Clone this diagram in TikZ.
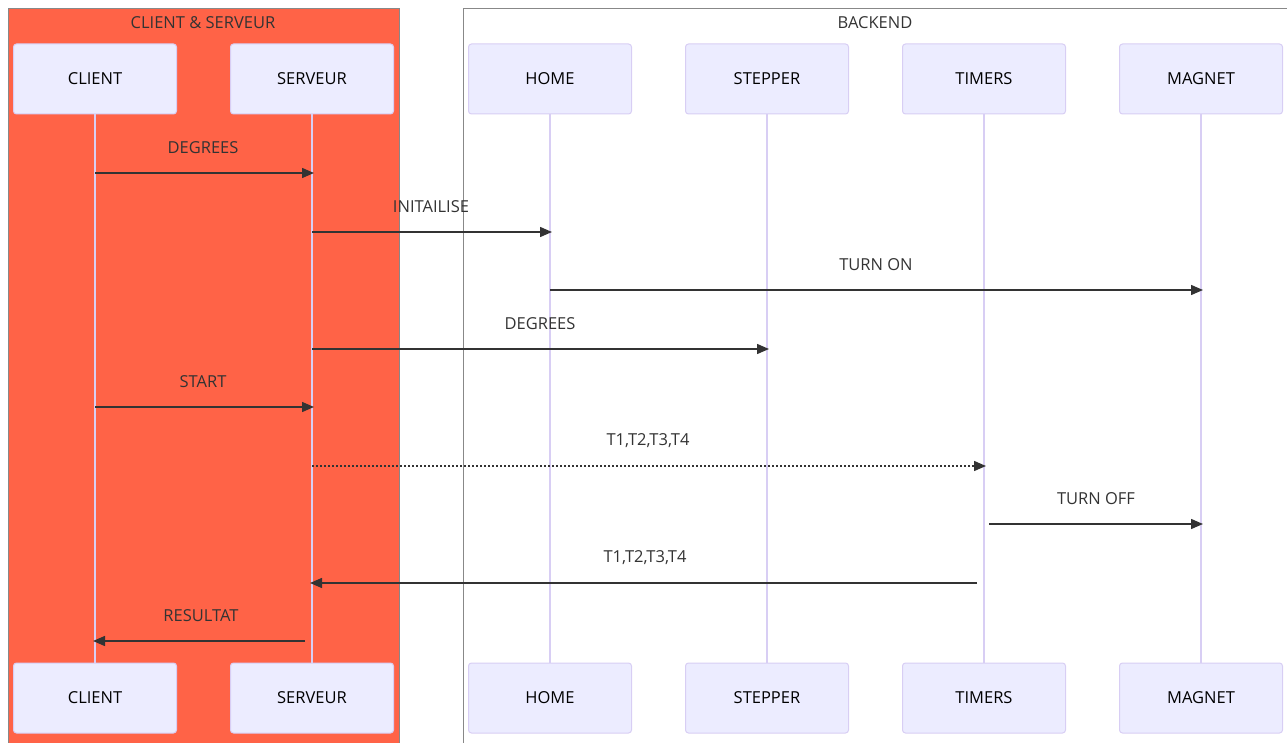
\documentclass[tikz,border=0pt]{standalone}
\usepackage{fontspec}
\setmainfont{Open Sans}
\usetikzlibrary{arrows.meta}
\definecolor{grpred}{HTML}{FF6347}
\definecolor{actfill}{HTML}{ECECFF}
\definecolor{actline}{HTML}{D8CEF4}
\definecolor{msgcol}{HTML}{333333}
\definecolor{grpline}{HTML}{888888}
\begin{document}
\begin{tikzpicture}[x=1pt,y=-1pt,
  actor/.style={draw=actline, fill=actfill, line width=1pt, rounded corners=3pt,
    minimum width=163pt, minimum height=70pt, inner sep=0pt, text height=10.5pt, text depth=0pt,
    font=\fontsize{16.5}{19}\selectfont, text=black},
  life/.style={draw=actline, line width=2pt},
  msg/.style={draw=msgcol, line width=1.4pt, -{Triangle[length=12pt,width=10pt]}},
  msglbl/.style={text=msgcol, font=\fontsize{16.5}{19}\selectfont, inner sep=0pt},
  grp/.style={draw=grpline, line width=1pt},
  grplbl/.style={text=msgcol, font=\fontsize{16.5}{19}\selectfont, inner sep=0pt}]
\useasboundingbox (0,0) rectangle (1287,743);
\begin{scope}
\clip (0,0) rectangle (1287,743);
% groups
\draw[grp, fill=grpred] (8,9) rectangle (399,750);
\draw[grp] (463,9) rectangle (1300,750);
\node[grplbl] (g1) at (203,23) {CLIENT \& SERVEUR};
\node[grplbl] (g2) at (875,23) {BACKEND};
% lifelines
\foreach \x in {95,312,550,767,984,1201}{
  \draw[life] (\x,114) -- (\x,663);
}
% actors top
\node[actor] (cT) at (95,79) {CLIENT};
\node[actor] (sT) at (312,79) {SERVEUR};
\node[actor] (hT) at (550,79) {HOME};
\node[actor] (pT) at (767,79) {STEPPER};
\node[actor] (tT) at (984,79) {TIMERS};
\node[actor] (mT) at (1201,79) {MAGNET};
% actors bottom
\node[actor] (cB) at (95,698) {CLIENT};
\node[actor] (sB) at (312,698) {SERVEUR};
\node[actor] (hB) at (550,698) {HOME};
\node[actor] (pB) at (767,698) {STEPPER};
\node[actor] (tB) at (984,698) {TIMERS};
\node[actor] (mB) at (1201,698) {MAGNET};
\end{scope}
% message endpoints
\coordinate (a1) at (95,173);  \coordinate (b1) at (314,173);
\coordinate (a2) at (312,232); \coordinate (b2) at (552,232);
\coordinate (a3) at (550,290); \coordinate (b3) at (1203,290);
\coordinate (a4) at (312,349); \coordinate (b4) at (769,349);
\coordinate (a5) at (95,407);  \coordinate (b5) at (314,407);
\coordinate (a6) at (312,466); \coordinate (b6) at (986,466);
\coordinate (a7) at (989,524); \coordinate (b7) at (1203,524);
\coordinate (a8) at (977,583); \coordinate (b8) at (310,583);
\coordinate (a9) at (305,641); \coordinate (b9) at (93,641);
\draw[msg] (a1) -- (b1);
\draw[msg] (a2) -- (b2);
\draw[msg] (a3) -- (b3);
\draw[msg] (a4) -- (b4);
\draw[msg] (a5) -- (b5);
\draw[msg, dash pattern=on 2pt off 2pt] (a6) -- (b6);
\draw[msg] (a7) -- (b7);
\draw[msg] (a8) -- (b8);
\draw[msg] (a9) -- (b9);
\node[msglbl] (l1) at (203,148) {DEGREES};
\node[msglbl] (l2) at (431,207) {INITAILISE};
\node[msglbl] (l3) at (876,265) {TURN ON};
\node[msglbl] (l4) at (540,324) {DEGREES};
\node[msglbl] (l5) at (203,382) {START};
\node[msglbl] (l6) at (648,441) {T1,T2,T3,T4};
\node[msglbl] (l7) at (1096,499) {TURN OFF};
\node[msglbl] (l8) at (645,558) {T1,T2,T3,T4};
\node[msglbl] (l9) at (201,616) {RESULTAT};
\end{tikzpicture}
\end{document}
